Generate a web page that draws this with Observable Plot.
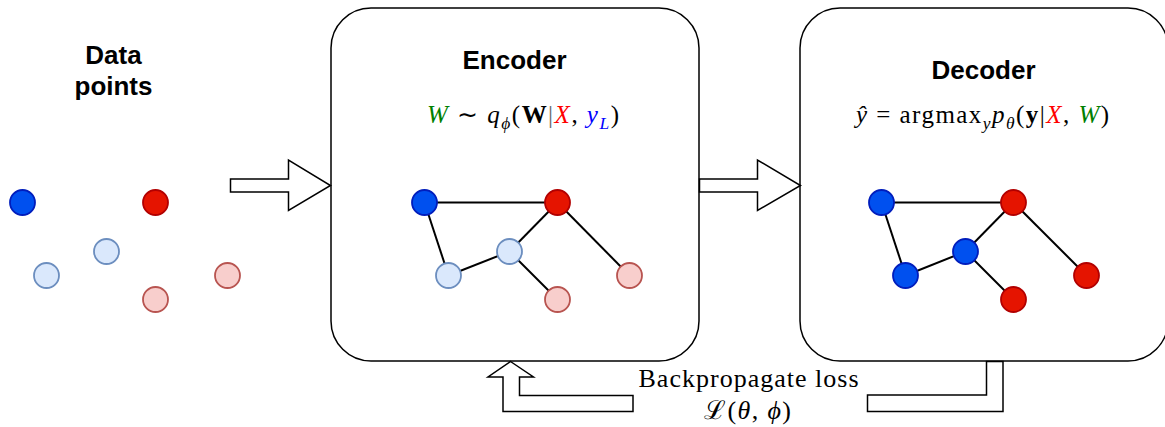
<!DOCTYPE html>
<html><head><meta charset="utf-8">
<script src="https://cdn.jsdelivr.net/npm/d3@7"></script>
<script src="https://cdn.jsdelivr.net/npm/@observablehq/plot@0.6"></script>
<style>html,body{margin:0;padding:0;background:#fff;overflow:hidden}</style>
</head><body><div id="chart"></div>
<script>
// ---------- data (diagram units = pixels of the 1165x427 frame) ----------
const pointsX = [22, 155, 106, 46, 227, 155];
const pointsY = [202, 202, 251, 275, 275, 299];
const pointsKind = ["labeled blue", "labeled red", "unlabeled blue", "unlabeled blue", "unlabeled red", "unlabeled red"];

const encoderX = [424, 557, 509, 448, 629, 557];
const encoderY = [202, 202, 251, 275, 275, 299];
const encoderKind = ["labeled blue", "labeled red", "unlabeled blue", "unlabeled blue", "unlabeled red", "unlabeled red"];

const decoderX = [881, 1013, 965, 905, 1086, 1013];
const decoderY = [202, 202, 251, 275, 275, 299];
const decoderKind = ["labeled blue", "labeled red", "labeled blue", "labeled blue", "labeled red", "labeled red"];

const edgePairs = [[0, 1], [0, 3], [3, 2], [2, 1], [2, 5], [1, 4]];

const boxNames = ["Encoder", "Decoder"];
const boxX1 = [331, 800];
const boxX2 = [699, 1168];
const boxY1 = [8, 8];
const boxY2 = [361, 361];

const titleText = ["Data\npoints", "Encoder", "Decoder"];
const titleX = [113, 514, 983];
const titleY = [69.5, 58.4, 69];

const arrowRight1 = [[230, 178.5], [288, 178.5], [288, 159.5], [330, 185], [288, 210], [288, 191.5], [230, 191.5]];
const arrowRight2 = [[699, 178.5], [757, 178.5], [757, 159.5], [800, 185], [757, 210], [757, 191.5], [699, 191.5]];
const arrowBackUp = [[510, 361], [533, 376.5], [519, 376.5], [519, 395], [632.5, 395], [632.5, 411], [502.5, 411], [502.5, 376.5], [487.5, 376.5]];
const arrowBackOut = [[986, 361], [986, 394.5], [867, 394.5], [867, 411], [1002.5, 411], [1002.5, 361]];

const formulaText = ["W ∼ qϕ(W|X, yL)", "ŷ = argmaxy pθ(y|X, W)"];
const formulaX = [522.5, 982];
const formulaY = [114, 114];
const formulaWidth = [192, 253];

const lossText = ["Backpropagate loss", "ℒ(θ, ϕ)"];
const lossX = [748, 747];
const lossY = [378.5, 410];
const lossWidth = [220, 87];

// ---------- styling ----------
const G = "#008000", R = "#ff0000", B = "#0000ff";
const fillOf = {"labeled blue": "#0050ef", "labeled red": "#e51400", "unlabeled blue": "#dae8fc", "unlabeled red": "#f8cecc"};
const strokeOf = {"labeled blue": "#001dbc", "labeled red": "#b20000", "unlabeled blue": "#6c8ebf", "unlabeled red": "#b85450"};
const FORMULA_FS = 25, LOSS_FS = 26;

// rich-text segments: [text, style(i=italic,b=bold,r=roman,s=subscript italic), colour]
const richSegments = {
  "W ∼ qϕ(W|X, yL)": [["W","i",G],[" ∼ ","r"],["q","i"],["ϕ","s"],["(","r"],["W","b"],["|","r","#666"],["X","i",R],[", ","r"],["y","i",B],["L","s",B],[")","r"]],
  "ŷ = argmaxy pθ(y|X, W)": [["ŷ","i"],[" = ","r"],["argmax","r"],["y","s"],["p","i"],["θ","s"],["(","r"],["y","b"],["|","r"],["X","i",R],[", ","r"],["W","i",G],[")","r"]],
  "Backpropagate loss": [["Backpropagate loss","r"]],
  "ℒ(θ, ϕ)": [["ℒ","r"],["(","r"],["θ","i"],[", ","r"],["ϕ","i"],[")","r"]]
};

// ---------- tables built from the arrays ----------
function panelNodes(xs, ys, kinds, panel) {
  return xs.map((x, i) => ({panel, x, y: ys[i], kind: kinds[i]}));
}
const nodes = [
  ...panelNodes(pointsX, pointsY, pointsKind, "points"),
  ...panelNodes(encoderX, encoderY, encoderKind, "encoder"),
  ...panelNodes(decoderX, decoderY, decoderKind, "decoder")
];
function panelEdges(xs, ys) {
  return edgePairs.map(([a, b]) => ({x1: xs[a], y1: ys[a], x2: xs[b], y2: ys[b]}));
}
const edges = [...panelEdges(encoderX, encoderY), ...panelEdges(decoderX, decoderY)];
const boxes = boxNames.map((name, i) => ({name, x1: boxX1[i], x2: boxX2[i], y1: boxY1[i], y2: boxY2[i]}));
const titles = titleText.map((t, i) => ({t, x: titleX[i], y: titleY[i]}));
const arrowPts = [];
[arrowRight1, arrowRight2, arrowBackUp, arrowBackOut].forEach((shape, id) =>
  shape.forEach(([x, y]) => arrowPts.push({id, x, y})));
const formulas = formulaText.map((t, i) => ({t, x: formulaX[i], y: formulaY[i], w: formulaWidth[i], fs: FORMULA_FS}));
const losses = lossText.map((t, i) => ({t, x: lossX[i], y: lossY[i], w: lossWidth[i], fs: LOSS_FS}));

const svg = Plot.plot({
  width: 1165, height: 427, margin: 0,
  x: {domain: [0, 1165], range: [0, 1165], axis: null},
  y: {domain: [0, 427], range: [0, 427], axis: null},
  color: {type: "identity"},
  style: {background: "white", overflow: "hidden"},
  marks: [
    Plot.rect(boxes, {x1: "x1", x2: "x2", y1: "y1", y2: "y2", rx: 40, ry: 40, fill: "white", stroke: "black", strokeWidth: 1.5}),
    Plot.line(arrowPts, {x: "x", y: "y", z: "id", curve: "linear-closed", fill: "white", stroke: "black", strokeWidth: 1.5, strokeLinejoin: "miter", strokeMiterlimit: 10}),
    Plot.link(edges, {x1: "x1", y1: "y1", x2: "x2", y2: "y2", stroke: "black", strokeWidth: 2}),
    Plot.dot(nodes, {x: "x", y: "y", r: 12.5, fill: d => fillOf[d.kind], stroke: d => strokeOf[d.kind], strokeWidth: 1.8}),
    Plot.text(titles, {x: "x", y: "y", text: "t", fontFamily: "Liberation Sans, Arial, sans-serif", fontWeight: "bold", fontSize: 26, lineHeight: 1.19, fill: "black"}),
    Plot.text(formulas, {x: "x", y: "y", text: "t", fontFamily: "Liberation Serif, Times New Roman, serif", fontSize: FORMULA_FS, fill: "black"}),
    Plot.text(losses, {x: "x", y: "y", text: "t", fontFamily: "Liberation Serif, Times New Roman, serif", fontSize: LOSS_FS, fill: "black"})
  ]
});

// turn plain formula strings into styled tspans
const info = Object.fromEntries([...formulas, ...losses].map(d => [d.t, d]));
d3.select(svg).selectAll("text").each(function () {
  const key = this.textContent;
  const segs = richSegments[key];
  if (!segs) return;
  const fs = info[key].fs;
  const el = d3.select(this);
  el.text(null);
  let shifted = false;
  for (const [txt, st, col] of segs) {
    const ts = el.append("tspan").text(txt);
    if (st === "i" || st === "s") ts.attr("font-style", "italic");
    if (st === "b") ts.attr("font-weight", "bold");
    if (col) ts.attr("fill", col);
    if (st === "s") {
      ts.attr("font-size", fs * 0.7);
      if (!shifted) { ts.attr("dy", fs * 0.25); shifted = true; }
    } else if (shifted) {
      ts.attr("dy", -fs * 0.25); shifted = false;
    }
  }
  el.attr("textLength", info[key].w).attr("lengthAdjust", "spacing");
});

document.getElementById("chart").appendChild(svg);
</script>
</body></html>
